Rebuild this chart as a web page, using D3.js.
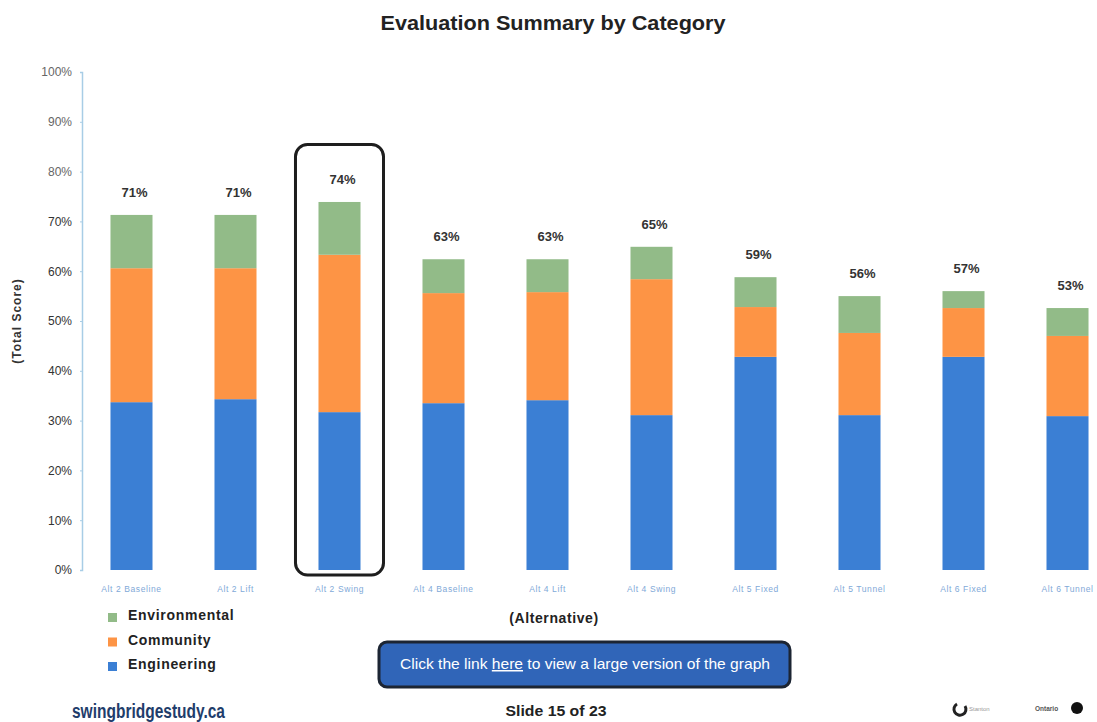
<!DOCTYPE html>
<html>
<head>
<meta charset="utf-8">
<script src="https://cdn.jsdelivr.net/npm/d3@7"></script>
<style>
  body { margin: 0; background: #fff; }
  svg { display: block; font-family: "Liberation Sans", Arial, sans-serif; }
</style>
</head>
<body>
<script>

// alternatives along the x axis
let categories = ["Alt 2 Baseline", "Alt 2 Lift", "Alt 2 Swing", "Alt 4 Baseline", "Alt 4 Lift",
                  "Alt 4 Swing", "Alt 5 Fixed", "Alt 5 Tunnel", "Alt 6 Fixed", "Alt 6 Tunnel"];

// score per category (percent of total)
let engineering   = [33.7, 34.3, 31.7, 33.5, 34.1, 31.1, 42.8, 31.1, 42.8, 30.9];
let community     = [26.9, 26.3, 31.6, 22.1, 21.7, 27.3, 10.0, 16.5,  9.8, 16.1];
let environmental = [10.7, 10.7, 10.6,  6.8,  6.6,  6.5,  6.0,  7.4,  3.4,  5.6];

// totals printed above the bars
let totals = [71, 71, 74, 63, 63, 65, 59, 56, 57, 53];

let yTicks = [0, 10, 20, 30, 40, 50, 60, 70, 80, 90, 100];

let seriesNames = ["Engineering", "Community", "Environmental"];
let highlighted = "Alt 2 Swing";

let width = 1097;
let height = 722;

let color = d3.scaleOrdinal()
  .domain(seriesNames)
  .range(["#3b7fd4", "#fd9445", "#92bb88"]);

// table for d3.stack, built from the arrays above
let table = categories.map((c, i) => ({
  category: c,
  Engineering: engineering[i],
  Community: community[i],
  Environmental: environmental[i]
}));

let stacked = d3.stack().keys(seriesNames)(table);

let x = d3.scaleBand()
  .domain(categories)
  .range([48.5, 1150.5])
  .padding(0.596);

let y = d3.scaleLinear()
  .domain([0, 100])
  .range([570, 72]);

let svg = d3.select("body")
  .append("svg")
  .attr("width", width)
  .attr("height", height);

// title
svg.append("text")
  .attr("x", 553)
  .attr("y", 30)
  .attr("text-anchor", "middle")
  .attr("font-size", 20)
  .attr("font-weight", "bold")
  .attr("fill", "#222")
  .attr("textLength", 345)
  .attr("lengthAdjust", "spacingAndGlyphs")
  .text("Evaluation Summary by Category");

// y axis
let yAxis = g => g
  .attr("transform", "translate(82,0)")
  .call(d3.axisLeft(y).tickValues(yTicks).tickFormat(d => d + "%").tickSize(2).tickPadding(8))
  .call(g => g.select(".domain").attr("stroke", "#a8cde6").attr("stroke-width", 1.5))
  .call(g => g.selectAll(".tick line").attr("stroke", "#a8cde6"))
  .call(g => g.selectAll(".tick text")
      .attr("font-size", 12)
      .attr("fill", d => d >= 80 ? "#666" : "#333")
      .attr("font-family", "'Liberation Sans', Arial, sans-serif"));

svg.append("g").call(yAxis);

svg.append("text")
  .attr("transform", `translate(21,${y(50)}) rotate(-90)`)
  .attr("text-anchor", "middle")
  .attr("font-size", 12)
  .attr("font-weight", "bold")
  .attr("letter-spacing", 1)
  .attr("fill", "#333")
  .text("(Total Score)");

// highlight box around the selected alternative
let hi = categories.indexOf(highlighted);
svg.append("rect")
  .attr("x", x(highlighted) - 23)
  .attr("y", y(totals[hi]) - 57)
  .attr("width", x.bandwidth() + 46)
  .attr("height", y(0) - y(totals[hi]) + 62)
  .attr("rx", 12)
  .attr("fill", "none")
  .attr("stroke", "#1e1e1e")
  .attr("stroke-width", 3);

// stacked bars
svg.append("g")
  .selectAll("g")
  .data(stacked)
  .join("g")
    .attr("fill", d => color(d.key))
  .selectAll("rect")
  .data(d => d)
  .join("rect")
    .attr("x", d => x(d.data.category))
    .attr("y", d => y(d[1]))
    .attr("height", d => y(d[0]) - y(d[1]))
    .attr("width", x.bandwidth());

// total labels
svg.append("g")
  .selectAll("text")
  .data(totals)
  .join("text")
    .attr("x", (d, i) => x(categories[i]) + x.bandwidth() / 2 + 3)
    .attr("y", (d, i) => y(d3.sum(stacked, s => s[i][1] - s[i][0])) - 18)
    .attr("text-anchor", "middle")
    .attr("font-size", 13)
    .attr("font-weight", "bold")
    .attr("fill", "#333")
    .text(d => d + "%");

// x axis labels
let xAxis = g => g
  .attr("transform", `translate(0,${y(0) + 13})`)
  .call(d3.axisBottom(x).tickSize(0).tickPadding(3))
  .call(g => g.select(".domain").remove())
  .call(g => g.selectAll(".tick text")
      .attr("font-size", 8.5)
      .attr("letter-spacing", 0.6)
      .attr("fill", "#7fa9d8")
      .attr("font-family", "'Liberation Sans', Arial, sans-serif"));

svg.append("g").call(xAxis);

svg.append("text")
  .attr("x", 554)
  .attr("y", 623)
  .attr("text-anchor", "middle")
  .attr("font-size", 14)
  .attr("font-weight", "bold")
  .attr("letter-spacing", 0.6)
  .attr("fill", "#222")
  .text("(Alternative)");

// legend
let legendOrder = ["Environmental", "Community", "Engineering"];
let legend = svg.append("g")
  .selectAll("g")
  .data(legendOrder)
  .join("g")
    .attr("transform", (d, i) => `translate(108,${612 + i * 24.5})`);

legend.append("rect")
  .attr("y", 1)
  .attr("width", 9)
  .attr("height", 9)
  .attr("fill", d => color(d));

legend.append("text")
  .attr("x", 20)
  .attr("y", 8)
  .attr("font-size", 14)
  .attr("font-weight", "bold")
  .attr("letter-spacing", 0.7)
  .attr("fill", "#222")
  .text(d => d);

// link button
svg.append("rect")
  .attr("x", 379)
  .attr("y", 642)
  .attr("width", 411)
  .attr("height", 45)
  .attr("rx", 8)
  .attr("fill", "#3065b8")
  .attr("stroke", "#1c2533")
  .attr("stroke-width", 3);

let btn = svg.append("text")
  .attr("x", 585)
  .attr("y", 669)
  .attr("text-anchor", "middle")
  .attr("font-size", 15)
  .attr("textLength", 370)
  .attr("lengthAdjust", "spacingAndGlyphs")
  .attr("fill", "#fff");
btn.append("tspan").text("Click the link ");
btn.append("tspan").attr("text-decoration", "underline").text("here");
btn.append("tspan").text(" to view a large version of the graph");

// footer
svg.append("text")
  .attr("x", 556)
  .attr("y", 716)
  .attr("text-anchor", "middle")
  .attr("font-size", 15)
  .attr("font-weight", "bold")
  .attr("fill", "#222")
  .attr("textLength", 101)
  .attr("lengthAdjust", "spacingAndGlyphs")
  .text("Slide 15 of 23");

svg.append("text")
  .attr("x", 72)
  .attr("y", 718)
  .attr("font-size", 20)
  .attr("font-weight", "bold")
  .attr("textLength", 153)
  .attr("lengthAdjust", "spacingAndGlyphs")
  .attr("fill", "#1f3d6b")
  .text("swingbridgestudy.ca");

// small logos bottom right
svg.append("path")
  .attr("d", "M957,704 a6,6 0 1,0 8,2")
  .attr("fill", "none")
  .attr("stroke", "#222")
  .attr("stroke-width", 3);
svg.append("text")
  .attr("x", 969)
  .attr("y", 711)
  .attr("font-size", 6)
  .attr("fill", "#999")
  .text("Stanton");

svg.append("text")
  .attr("x", 1035)
  .attr("y", 711)
  .attr("font-size", 6.5)
  .attr("font-weight", "bold")
  .attr("fill", "#555")
  .text("Ontario");
svg.append("circle")
  .attr("cx", 1077)
  .attr("cy", 708)
  .attr("r", 6)
  .attr("fill", "#111");

</script>
</body>
</html>
